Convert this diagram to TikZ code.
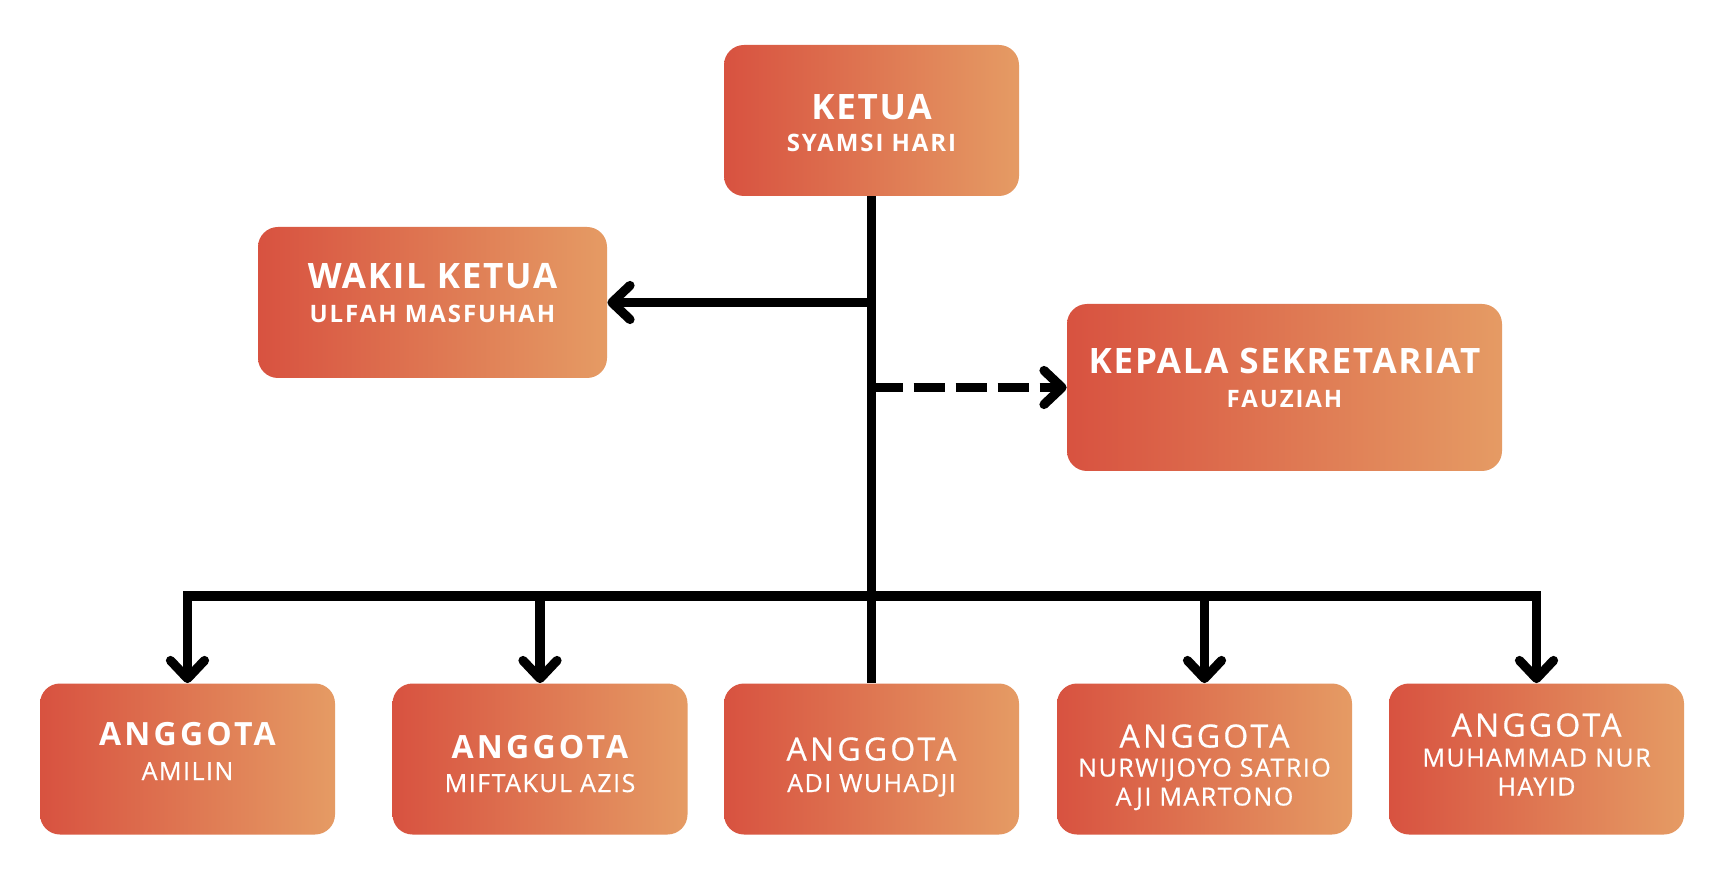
\documentclass[tikz,border=0pt]{standalone}
\usepackage{fontspec}
\setmainfont{Open Sans}
\usetikzlibrary{arrows.meta}
\definecolor{boxL}{RGB}{216,82,64}
\definecolor{boxR}{RGB}{229,155,100}
\newcommand\tlfont{\fontsize{17.5}{20}\selectfont\bfseries\addfontfeature{LetterSpace=5}}
\newcommand\agbold{\fontsize{16}{19}\selectfont\bfseries\addfontfeature{LetterSpace=10}}
\newcommand\agreg{\fontsize{16}{19}\selectfont\addfontfeature{LetterSpace=10,FakeBold=0.6}}
\newcommand\nmfont{\fontsize{12}{14}\selectfont\bfseries\addfontfeature{LetterSpace=8}}
\newcommand\nmreg{\fontsize{12.5}{15}\selectfont\addfontfeature{LetterSpace=6,FakeBold=0.6}}
\begin{document}
\begin{tikzpicture}[x=0.5pt,y=-0.5pt,
  box/.style={rounded corners=10pt, left color=boxL, right color=boxR, draw=none,
    minimum height=75.5pt, minimum width=147.5pt, inner sep=0pt},
  txt/.style={text=white, anchor=base, inner sep=0pt},
  conn/.style={line width=4.6pt, draw=black},
  arr/.style={conn, -{Straight Barb[length=9pt,width=17pt,round]}},
  darr/.style={arr, dash pattern=on 15.5pt off 5.5pt}
]
\useasboundingbox[fill=white] (0,0) rectangle (1728,876);

% boxes
\node[box] (ketua) at (871.5,120.5) {};
\node[box, minimum width=174.5pt] (wakil) at (432.5,302.5) {};
\node[box, minimum width=217.5pt, minimum height=83.5pt] (kepala) at (1284.5,387.5) {};
\node[box] (amilin) at (187.5,759) {};
\node[box] (miftakul) at (540,759) {};
\node[box] (adi) at (871.5,759) {};
\node[box] (nurwi) at (1204.5,759) {};
\node[box] (muhammad) at (1536.5,759) {};

% texts
\node[txt] (t1a) at (871.5,119.5) {\tlfont KETUA};
\node[txt] (t1b) at (871.5,152) {\nmfont SYAMSI HARI};
\node[txt] (t2a) at (432.5,289) {\tlfont WAKIL KETUA};
\node[txt] (t2b) at (432.5,322.5) {\nmfont ULFAH MASFUHAH};
\node[txt] (t3a) at (1284.5,374) {\tlfont KEPALA SEKRETARIAT};
\node[txt] (t3b) at (1284.5,407.5) {\nmfont FAUZIAH};
\node[txt] (t4a) at (187.5,745.5) {\agbold ANGGOTA};
\node[txt] (t4b) at (187.5,780) {\nmreg AMILIN};
\node[txt] (t5a) at (540,758.5) {\agbold ANGGOTA};
\node[txt] (t5b) at (540,792) {\nmreg MIFTAKUL AZIS};
\node[txt] (t6a) at (871.5,760.5) {\agreg ANGGOTA};
\node[txt] (t6b) at (871.5,792) {\nmreg ADI WUHADJI};
\node[txt] (t7a) at (1204.5,747.5) {\agreg ANGGOTA};
\node[txt] (t7b) at (1204.5,776.5) {\nmreg NURWIJOYO SATRIO};
\node[txt] (t7c) at (1204.5,805.5) {\nmreg AJI MARTONO};
\node[txt] (t8a) at (1536.5,736.5) {\agreg ANGGOTA};
\node[txt] (t8b) at (1536.5,766.5) {\nmreg MUHAMMAD NUR};
\node[txt] (t8c) at (1536.5,795.5) {\nmreg HAYID};

% connectors
\coordinate (jw) at (ketua.south |- wakil.east);
\coordinate (js) at (ketua.south |- kepala.west);
\coordinate (b1) at (amilin.north |- 0,596);
\coordinate (b2) at (miftakul.north |- 0,596);
\coordinate (b4) at (nurwi.north |- 0,596);
\coordinate (b5) at (muhammad.north |- 0,596);

\draw[conn] (ketua.south) -- (adi.north);
\draw[arr] (jw) -- (wakil.east);
\draw[darr] (js) -- (kepala.west);
\draw[conn, line join=miter, {Straight Barb[length=9pt,width=17pt,round]}-{Straight Barb[length=9pt,width=17pt,round]}]
  (amilin.north) -- (b1) -- (b5) -- (muhammad.north);
\draw[arr] (b2) -- (miftakul.north);
\draw[arr] (b4) -- (nurwi.north);
\end{tikzpicture}
\end{document}
